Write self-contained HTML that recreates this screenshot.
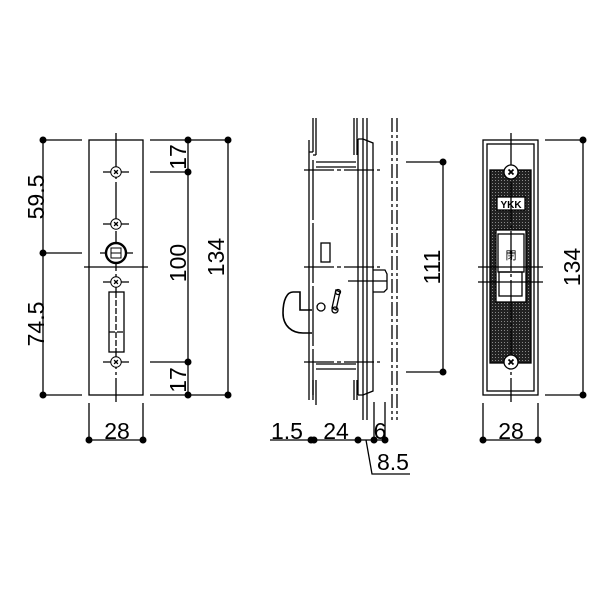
<!DOCTYPE html>
<html><head><meta charset="utf-8"><style>html,body{margin:0;padding:0;background:#fff}svg{display:block}text{font-family:"Liberation Sans","Noto Sans CJK JP",sans-serif;fill:#000}</style></head>
<body>
<svg width="600" height="600" viewBox="0 0 600 600" xmlns="http://www.w3.org/2000/svg">
<defs>
<pattern id="dots" width="3" height="3" patternUnits="userSpaceOnUse"><rect width="3" height="3" fill="#222"/><rect x="0" y="0" width="1" height="1" fill="#888"/></pattern>
<g id="screw"><circle r="7" fill="#fff" stroke="#000" stroke-width="1.3"/><path d="M-2.5,-2.5L2.5,2.5M2.5,-2.5L-2.5,2.5" stroke="#000" stroke-width="1.8"/></g>
</defs>
<g stroke="#000" stroke-width="1.3" fill="none">
<!-- LEFT VIEW -->
<rect x="89" y="140" width="54" height="255"/>
<path d="M116,133V402" stroke-dasharray="40,3,3,3"/>
<path d="M84,267H148"/>
<path d="M43,140V395M82,140H43M82,253H43M82,395H43"/>
<path d="M150,140H228M150,172H188M150,362H188M150,395H228M188,140V395M228,140V395"/>
<path d="M89,403V440M143,403V440M89,440H143"/>
<path d="M103,172H129M103,224H129M103,282H129M103,362H129M100,253H133"/>
<rect x="109" y="292" width="15" height="60" fill="#fff"/>
<path d="M109,332H124M116,292V352" stroke-dasharray="6,2"/>
</g>
<g transform="translate(116,172) scale(0.75)"><use href="#screw"/></g>
<g transform="translate(116,224) scale(0.75)"><use href="#screw"/></g>
<g transform="translate(116,282) scale(0.75)"><use href="#screw"/></g>
<g transform="translate(116,362) scale(0.75)"><use href="#screw"/></g>
<circle cx="116" cy="253" r="10" fill="#fff" stroke="#000" stroke-width="2.4"/>
<rect x="111" y="248" width="10" height="10" fill="none" stroke="#000"/>
<path d="M111,253H121" stroke="#000"/>
<g fill="#000">
<circle cx="43" cy="140" r="3.5"/><circle cx="43" cy="253" r="3.5"/><circle cx="43" cy="395" r="3.5"/>
<circle cx="188" cy="140" r="3.5"/><circle cx="188" cy="172" r="3.5"/><circle cx="188" cy="362" r="3.5"/><circle cx="188" cy="395" r="3.5"/>
<circle cx="228" cy="140" r="3.5"/><circle cx="228" cy="395" r="3.5"/>
<circle cx="89" cy="440" r="3.5"/><circle cx="143" cy="440" r="3.5"/>
</g>
<g font-size="23">
<text transform="translate(44,197) rotate(-90)" text-anchor="middle">59.5</text>
<text transform="translate(44,324) rotate(-90)" text-anchor="middle">74.5</text>
<text transform="translate(186,157) rotate(-90)" text-anchor="middle">17</text>
<text transform="translate(186,380) rotate(-90)" text-anchor="middle">17</text>
<text transform="translate(186,263) rotate(-90)" text-anchor="middle">100</text>
<text transform="translate(224,257) rotate(-90)" text-anchor="middle">134</text>
<text x="117" y="439" text-anchor="middle">28</text>
</g>

<!-- MIDDLE VIEW -->
<g stroke="#000" stroke-width="1.3" fill="none">
<path d="M313,118V152M316,118V155M354,118V155M357,118V155"/>
<path d="M309,140V400M313,152H309M313,155H316"/>
<path d="M313,160V395" stroke-dasharray="60,3"/>
<path d="M316,162H356M316,167H356M316,364H356M316,369H356"/>
<path d="M313,380V400M316,380V405M354,380V400M357,380V400"/>
<path d="M358,139V395M358,139H363L373,143V391L363,395H358"/>
<path d="M363,118V420M367,118V420"/>
<path d="M392,118V420M397,118V420" stroke-dasharray="14,3,3,3"/>
<path d="M304,170H380M304,362H380M304,267H380" stroke-dasharray="30,3,4,3"/>
<rect x="321" y="243" width="9" height="19"/>
<path d="M373,270H385L387,274V289L384,292H373M348,281H387"/>
<path d="M312,310H300V292H293C287,292 283,300 283,313C283,326 292,333 303,333H312" stroke-width="1.6"/>
<circle cx="321" cy="307" r="4"/>
<path d="M336,290L340,292L336,310L332,308Z"/>
<circle cx="338" cy="292" r="2.5"/><circle cx="335" cy="310" r="3"/>
<path d="M406,162H443M406,372H443M443,162V372"/>
<path d="M374,402V440M385,402V440"/>
<path d="M270,440H387M366,440L372,474H410"/>
</g>
<g fill="#000">
<circle cx="443" cy="162" r="3.5"/><circle cx="443" cy="372" r="3.5"/>
<circle cx="311" cy="440" r="3.5"/><circle cx="314" cy="440" r="3.5"/><circle cx="358" cy="440" r="3.5"/><circle cx="374" cy="440" r="3.5"/><circle cx="385" cy="440" r="3.5"/>
</g>
<g font-size="23">
<text transform="translate(440,267) rotate(-90)" text-anchor="middle">111</text>
<text x="287" y="439" text-anchor="middle">1.5</text>
<text x="336" y="439" text-anchor="middle">24</text>
<text x="380" y="439" text-anchor="middle">6</text>
<text x="393" y="470" text-anchor="middle">8.5</text>
</g>

<!-- RIGHT VIEW -->
<g stroke="#000" stroke-width="1.3" fill="none">
<rect x="483" y="140" width="55" height="255"/>
<rect x="487" y="144" width="47" height="247"/>
<rect x="490" y="170" width="41" height="193" fill="url(#dots)"/>
<rect x="497" y="197" width="28" height="13" fill="#fff"/>
<rect x="496" y="230" width="30" height="72" fill="#fff"/>
<rect x="498" y="234" width="26" height="38"/>
<rect x="499" y="272" width="23" height="24"/>
<path d="M511,133V402" stroke-dasharray="40,3,3,3"/>
<path d="M478,267H543M478,282H543"/>
<path d="M545,140H583M545,395H583M583,140V395"/>
<path d="M483,403V440M538,403V440M483,440H538"/>
</g>
<use href="#screw" x="511" y="172"/>
<use href="#screw" x="511" y="362"/>
<text x="511" y="208" font-size="10" text-anchor="middle" font-weight="bold">YKK</text>
<text x="511" y="259" font-size="11" text-anchor="middle">閉</text>
<g fill="#000">
<circle cx="583" cy="140" r="3.5"/><circle cx="583" cy="395" r="3.5"/>
<circle cx="483" cy="440" r="3.5"/><circle cx="538" cy="440" r="3.5"/>
</g>
<g font-size="23">
<text transform="translate(580,267) rotate(-90)" text-anchor="middle">134</text>
<text x="511" y="439" text-anchor="middle">28</text>
</g>
</svg>
</body></html>
